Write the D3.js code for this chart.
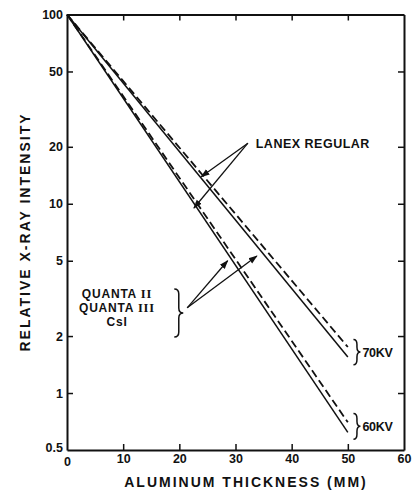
<!DOCTYPE html>
<html><head><meta charset="utf-8">
<script src="https://cdn.jsdelivr.net/npm/d3@7"></script>
<style>
body{margin:0;background:#fff;}
svg{display:block;}
text{font-family:"Liberation Sans",Arial,sans-serif;font-weight:bold;fill:#111;}
</style></head><body>
<svg id="c" width="416" height="490"></svg>
<script>
// ---- data ----
const thickness = [0, 50];                     // mm aluminum
const lanex70 = [100, 1.75];                   // dashed, 70 kV
const quanta70 = [100, 1.55];                  // solid, 70 kV
const lanex60 = [100, 0.70];                   // dashed, 60 kV
const quanta60 = [100, 0.62];                  // solid, 60 kV
const xTicks = [0, 10, 20, 30, 40, 50, 60];
const yTicks = [0.5, 1, 2, 5, 10, 20, 50, 100];
const yTickLabels = ["0.5", "1", "2", "5", "10", "20", "50", "100"];

const series = [
  {vals: lanex70, dashed: true},
  {vals: quanta70, dashed: false},
  {vals: lanex60, dashed: true},
  {vals: quanta60, dashed: false}
];

const svg = d3.select("#c");
const L = 67, R = 404, T = 14.5, B = 450;
const x = d3.scaleLinear().domain([0, 60]).range([L, R]);
const y = d3.scaleLog().domain([0.5, 100]).range([B, T]);

const ink = "#111";

svg.append("defs").append("marker")
  .attr("id", "ah").attr("viewBox", "0 0 10 10").attr("refX", 9).attr("refY", 5)
  .attr("markerWidth", 7).attr("markerHeight", 7).attr("orient", "auto")
  .append("path").attr("d", "M0,1.5 L10,5 L0,8.5 Z").attr("fill", ink);

// axes (all ticks inward)
const tl = 6;
const axB = svg.append("g").attr("transform", `translate(0,${B})`)
  .call(d3.axisBottom(x).tickValues(xTicks).tickSizeInner(-tl).tickSizeOuter(0).tickPadding(4).tickFormat(d3.format("d")));
const axT = svg.append("g").attr("transform", `translate(0,${T})`)
  .call(d3.axisTop(x).tickValues(xTicks.slice(1, -1)).tickSizeInner(-tl).tickSizeOuter(0).tickFormat(""));
const axL = svg.append("g").attr("transform", `translate(${L},0)`)
  .call(d3.axisLeft(y).tickValues(yTicks).tickSizeInner(-tl).tickSizeOuter(0).tickPadding(4)
    .tickFormat((d, i) => yTickLabels[i]));
const axR = svg.append("g").attr("transform", `translate(${R},0)`)
  .call(d3.axisRight(y).tickValues(yTicks.slice(1, -1)).tickSizeInner(-tl).tickSizeOuter(0).tickFormat(""));

[axB, axT, axL, axR].forEach(g => {
  g.select(".domain").attr("stroke", ink).attr("stroke-width", 2);
  g.selectAll(".tick line").attr("stroke", ink).attr("stroke-width", 1.5);
  g.selectAll("text").attr("font-size", 12.5).attr("fill", ink)
    .attr("font-family", "'Liberation Sans',Arial,sans-serif").attr("font-weight", "bold");
});
axB.selectAll(".tick").filter(d => d === 0 || d === 60).select("line").remove();
axL.selectAll(".tick").filter(d => d === 0.5 || d === 100).select("line").remove();
axL.selectAll(".tick").filter(d => d === 0.5).select("text").attr("dy", "0.1em");
axB.selectAll(".tick").filter(d => d === 0).select("text").attr("dy", "0.95em");

// data lines
const line = d3.line().x((d, i) => x(thickness[i])).y(d => y(d));
svg.append("g").selectAll("path").data(series).join("path")
  .attr("d", d => line(d.vals))
  .attr("fill", "none").attr("stroke", ink)
  .attr("stroke-width", d => d.dashed ? 1.8 : 1.5)
  .attr("stroke-dasharray", d => d.dashed ? "8,4" : null);

// axis titles
svg.append("text").attr("x", 246).attr("y", 487).attr("text-anchor", "middle")
  .attr("font-size", 14).attr("letter-spacing", 2).text("ALUMINUM THICKNESS (MM)");
svg.append("text").attr("transform", "translate(30,232) rotate(-90)").attr("text-anchor", "middle")
  .attr("font-size", 14).attr("letter-spacing", 2).text("RELATIVE X-RAY INTENSITY");

// LANEX REGULAR annotation
const lanexOrigin = [32.2, 20.9];
const lanexTips = [[23.9, 13.9], [22.6, 9.5]];
svg.append("text").attr("x", x(33.6)).attr("y", y(20.9)).attr("dy", "0.36em")
  .attr("font-size", 12.5).attr("letter-spacing", 0.5).text("LANEX REGULAR");
lanexTips.forEach(t => svg.append("line")
  .attr("x1", x(lanexOrigin[0])).attr("y1", y(lanexOrigin[1]))
  .attr("x2", x(t[0])).attr("y2", y(t[1]))
  .attr("stroke", ink).attr("stroke-width", 1.3).attr("marker-end", "url(#ah)"));

// QUANTA annotation
const quantaOrigin = [21.4, 2.82];
const quantaTips = [[28.6, 5.0], [33.8, 5.3]];
quantaTips.forEach(t => svg.append("line")
  .attr("x1", x(quantaOrigin[0])).attr("y1", y(quantaOrigin[1]))
  .attr("x2", x(t[0])).attr("y2", y(t[1]))
  .attr("stroke", ink).attr("stroke-width", 1.3).attr("marker-end", "url(#ah)"));

const qx = x(8.9);
const qy = y(2.82);
const qLines = [["QUANTA ", "II"], ["QUANTA ", "III"], ["CsI", ""]];
qLines.forEach((q, i) => {
  const t = svg.append("text").attr("x", qx).attr("y", qy + (i - 1) * 14).attr("dy", "0.36em")
    .attr("text-anchor", "middle").attr("font-size", 12).attr("letter-spacing", 0.8);
  t.append("tspan").text(q[0]);
  if (q[1]) t.append("tspan").attr("font-family", "'Liberation Serif',serif").attr("font-size", 12.5).text(q[1]);
});

// curly brace (opens left, points right)
function brace(xl, y0, y1, w) {
  const ym = (y0 + y1) / 2, r = Math.min(5, (y1 - y0) / 5), xm = xl + w / 2;
  return `M${xl},${y0} Q${xm},${y0} ${xm},${y0 + r} L${xm},${ym - r} Q${xm},${ym} ${xl + w},${ym}`
    + ` Q${xm},${ym} ${xm},${ym + r} L${xm},${y1 - r} Q${xm},${y1} ${xl},${y1}`;
}
svg.append("path").attr("d", brace(x(19.1), y(3.55), y(1.98), 9))
  .attr("fill", "none").attr("stroke", ink).attr("stroke-width", 1.5);

// kV labels with braces
const kvLabels = [{t: "70KV", top: 1.92, bot: 1.41}, {t: "60KV", top: 0.78, bot: 0.57}];
kvLabels.forEach(k => {
  svg.append("path").attr("d", brace(x(51.0), y(k.top), y(k.bot), 7))
    .attr("fill", "none").attr("stroke", ink).attr("stroke-width", 1.5);
  svg.append("text").attr("x", x(52.6)).attr("y", (y(k.top) + y(k.bot)) / 2).attr("dy", "0.36em")
    .attr("font-size", 12.5).attr("font-weight", "normal").attr("letter-spacing", -0.3).text(k.t);
});
</script>
</body></html>
